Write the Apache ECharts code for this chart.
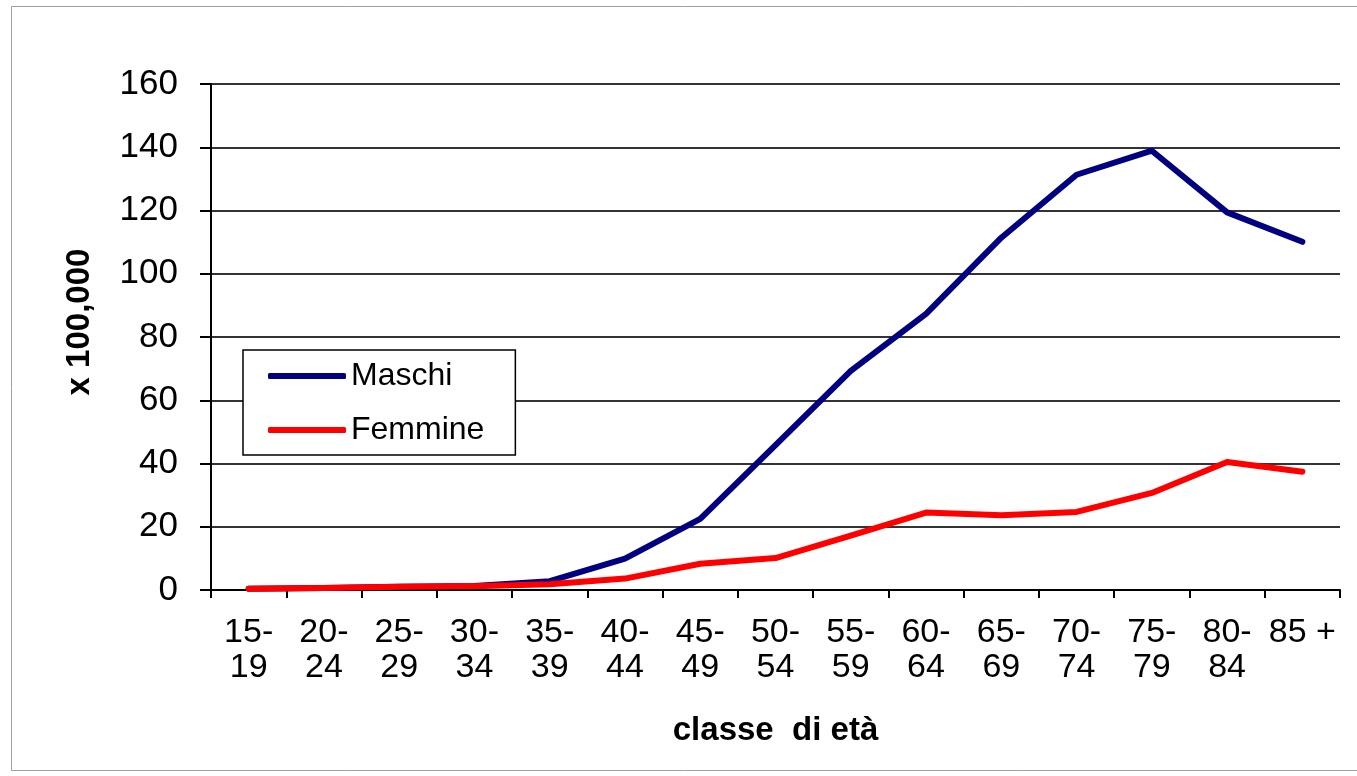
<!DOCTYPE html>
<html>
<head>
<meta charset="utf-8">
<style>
  html, body { margin: 0; padding: 0; background: #fff; }
  #chart { width: 1357px; height: 776px; }
</style>
<script src="https://cdn.jsdelivr.net/npm/echarts@6/dist/echarts.min.js"></script>
</head>
<body>
<div id="chart"></div>
<script>
// Age classes (x axis)
const categories = ['15-\n19', '20-\n24', '25-\n29', '30-\n34', '35-\n39', '40-\n44', '45-\n49',
  '50-\n54', '55-\n59', '60-\n64', '65-\n69', '70-\n74', '75-\n79', '80-\n84', '85 +'];

// Rates per 100,000
const maschi = [0.4, 0.6, 1.0, 1.3, 2.8, 9.9, 22.5, 45.8, 69.3, 87.3, 111.4, 131.3, 138.9, 119.4, 110.1];
const femmine = [0.4, 0.6, 1.0, 1.2, 1.8, 3.6, 8.3, 10.1, 17.2, 24.5, 23.6, 24.7, 30.7, 40.5, 37.4];

const yTicks = { min: 0, max: 160, interval: 20 };

const FONT = '"Liberation Sans", Arial, sans-serif';

const chart = echarts.init(document.getElementById('chart'), null, { renderer: 'canvas' });

chart.setOption({
  backgroundColor: '#fff',
  animation: false,
  graphic: [{
    type: 'rect',
    z: -10,
    shape: { x: 11.5, y: 6.5, width: 1360, height: 764 },
    style: { fill: 'none', stroke: '#a0a0a0', lineWidth: 1 }
  }],
  grid: { left: 211, right: 17, top: 84, bottom: 186, containLabel: false },
  legend: {
    orient: 'vertical',
    left: 243,
    top: 350,
    z: 10,
    backgroundColor: '#fff',
    borderColor: '#000',
    borderWidth: 1.5,
    padding: [10, 31, 9, 25],
    itemWidth: 78,
    itemHeight: 6,
    itemGap: 22,
    icon: 'roundRect',
    textStyle: { fontFamily: FONT, fontSize: 32, color: '#000', lineHeight: 30 },
    data: ['Maschi', 'Femmine']
  },
  xAxis: {
    type: 'category',
    data: categories,
    boundaryGap: true,
    name: 'classe  di età',
    nameLocation: 'middle',
    nameGap: 124,
    nameTextStyle: { fontFamily: FONT, fontSize: 33, fontWeight: 'bold', color: '#000' },
    axisLine: { show: true, lineStyle: { color: '#000', width: 2 } },
    axisTick: { show: true, length: 8, lineStyle: { color: '#000', width: 2 } },
    axisLabel: {
      interval: 0,
      margin: 25,
      fontFamily: FONT,
      fontSize: 34,
      lineHeight: 35,
      color: '#000'
    },
    splitLine: { show: false }
  },
  yAxis: {
    type: 'value',
    min: yTicks.min,
    max: yTicks.max,
    interval: yTicks.interval,
    name: 'x 100,000',
    nameLocation: 'middle',
    nameRotate: 90,
    nameGap: 115,
    nameTextStyle: { fontFamily: FONT, fontSize: 33, fontWeight: 'bold', color: '#000', padding: [0, 0, 0, 30] },
    axisLine: { show: true, lineStyle: { color: '#000', width: 2 } },
    axisTick: { show: true, length: 11, lineStyle: { color: '#000', width: 2 } },
    axisLabel: { margin: 33, fontFamily: FONT, fontSize: 35, color: '#000' },
    splitLine: { show: true, lineStyle: { color: '#333', width: 2 } }
  },
  series: [
    {
      name: 'Maschi',
      type: 'line',
      data: maschi,
      symbol: 'none',
      z: 3,
      itemStyle: { color: '#000080' },
      lineStyle: { color: '#000080', width: 6, cap: 'round', join: 'round' }
    },
    {
      name: 'Femmine',
      type: 'line',
      data: femmine,
      symbol: 'none',
      z: 4,
      itemStyle: { color: '#ff0000' },
      lineStyle: { color: '#ff0000', width: 6, cap: 'round', join: 'round' }
    }
  ]
});
</script>
</body>
</html>
